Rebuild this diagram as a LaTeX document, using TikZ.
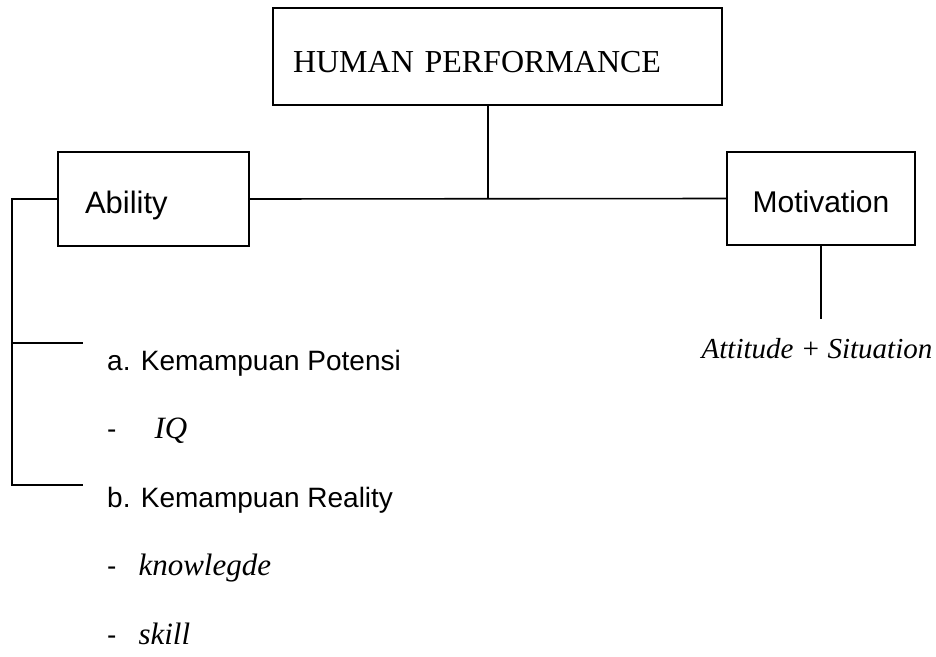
\documentclass[tikz,border=0pt]{standalone}
\usepackage{fontspec}
\setmainfont{Liberation Serif}
\setsansfont{Liberation Sans}
\usetikzlibrary{positioning}

\tikzstyle{box} = [rectangle, draw=black, line width=1.6pt, inner ysep=0pt]
\tikzstyle{item} = [anchor=base west, inner sep=0pt,
font=\sffamily\fontsize{28}{33}\selectfont]
\tikzstyle{sub} = [anchor=base, inner sep=0pt,
font=\fontsize{29}{34}\selectfont\itshape]
\tikzstyle{link} = [line width=1.6pt]

\begin{document}
\begin{tikzpicture}[x=1pt, y=-1pt]
    \useasboundingbox (0,0) rectangle (936,656);

    \node (hp) [box, text width=409pt, align=left, inner xsep=20pt,
      text height=64pt, text depth=33pt,
      font=\fontsize{32}{37}\selectfont] at (497.5,56.5) {HUMAN PERFORMANCE};
    \node (ability) [box, text width=137pt, align=left, inner xsep=27pt,
      text height=61pt, text depth=33pt,
      font=\sffamily\fontsize{31}{36}\selectfont] at (153.5,199) {Ability};
    \node (motivation) [box, minimum width=188pt, text height=60pt, text depth=33pt,
      font=\sffamily\fontsize{30}{35}\selectfont] at (821,198.5) {Motivation};

    \node (potensi) [item] at (107,370) {a. Kemampuan Potensi};
    \node (iq) [item, below=68.5pt of potensi.base west, anchor=base west]
      {-\hspace{38pt}\rmfamily\itshape\fontsize{31}{36}\selectfont IQ};
    \node (reality) [item, below=68.5pt of iq.base west, anchor=base west]
      {b. Kemampuan Reality};
    \node (knowledge) [item, below=68.5pt of reality.base west, anchor=base west]
      {-\hspace{22pt}\rmfamily\itshape\fontsize{31}{36}\selectfont knowlegde};
    \node (skill) [item, below=68.5pt of knowledge.base west, anchor=base west]
      {-\hspace{22pt}\rmfamily\itshape\fontsize{31}{36}\selectfont skill};
    \node (attitude) [sub] at (817,358) {Attitude + Situation};

    \coordinate (lt) at (12,199);
    \coordinate (ca) at (83,343);
    \coordinate (cb) at (83,485);
    \coordinate (mend) at (821,319);

    \draw [link] (ability.east) -- (motivation.west);
    \draw [link] ([xshift=-9.5pt]hp.south) -- ([xshift=-9.5pt]hp.south |- ability.east);
    \draw [link] (ability.west) -- (lt) |- (cb);
    \draw [link] (lt |- ca) -- (ca);
    \draw [link] (motivation.south) -- (mend);
\end{tikzpicture}
\end{document}
